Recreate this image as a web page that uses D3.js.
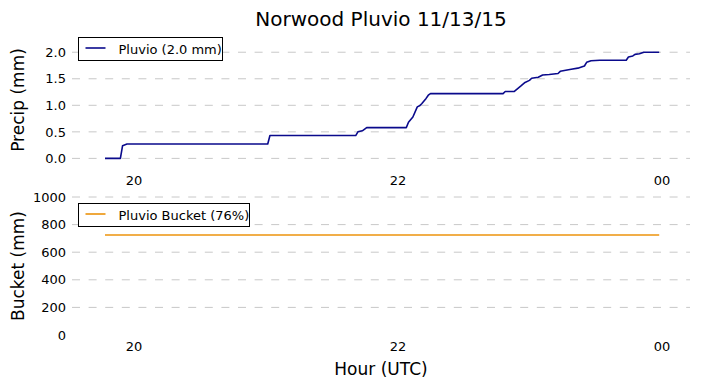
<!DOCTYPE html>
<html>
<head>
<meta charset="utf-8">
<script src="https://cdn.jsdelivr.net/npm/d3@7"></script>
<style>
  body { margin: 0; background: #fff; }
  text { font-family: "DejaVu Sans", sans-serif; fill: #000; }
</style>
</head>
<body>
<svg id="chart" width="701" height="388"></svg>
<script>
// cumulative pluvio precip, 11/13/15 (UTC)
var precipTimes = ['19:47', '19:54', '19:55', '19:57', '21:01', '21:02', '21:41', '21:42', '21:44', '21:46',
  '22:04', '22:05', '22:07', '22:09', '22:10', '22:11', '22:13', '22:14', '22:15', '22:48', '22:49',
  '22:53', '22:56', '22:58', '23:00', '23:01', '23:04', '23:06', '23:09', '23:13', '23:14', '23:19',
  '23:22', '23:25', '23:26', '23:28', '23:32', '23:44', '23:45', '23:47', '23:48', '23:50', '23:52', '23:59']
var precipValues = [0.0, 0.0, 0.24, 0.27, 0.27, 0.43, 0.43, 0.5, 0.52, 0.58,
  0.58, 0.68, 0.78, 0.97, 0.99, 1.03, 1.13, 1.19, 1.22, 1.22, 1.26,
  1.26, 1.36, 1.43, 1.47, 1.51, 1.53, 1.57, 1.58, 1.6, 1.64, 1.68,
  1.7, 1.74, 1.81, 1.84, 1.85, 1.85, 1.91, 1.93, 1.96, 1.97, 2.0, 2.0]

var bucketTimes = ['19:47', '21:00', '22:00', '23:00', '23:59']
var bucketValues = [725, 725, 725, 725, 725]

var precipTicks = [0, 0.5, 1.0, 1.5, 2.0]
var bucketTicks = [0, 200, 400, 600, 800, 1000]
var hourTicks = ['20:00', '22:00', '24:00']

var parseTime = function (s) {
  var p = s.split(':')
  return new Date(2015, 10, 13, +p[0], +p[1])
}

var svg = d3.select('#chart')
var margin = { left: 72, right: 11 }
var width = 701

var x = d3.scaleTime()
  .domain([new Date(2015, 10, 13, 19, 32), new Date(2015, 10, 14, 0, 13)])
  .range([margin.left, width - margin.right])

var gridColor = '#c8c8c8'

function drawPanel(cfg) {
  var y = d3.scaleLinear().domain(cfg.domain).range([cfg.bottom, cfg.top])
  var g = svg.append('g')

  // dashed grid
  g.selectAll('line.grid')
    .data(cfg.ticks.filter(function (t) { return cfg.gridAtZero || t !== 0 }))
    .enter()
    .append('line')
    .attr('x1', margin.left)
    .attr('x2', width - margin.right)
    .attr('y1', function (d) { return y(d) })
    .attr('y2', function (d) { return y(d) })
    .attr('stroke', gridColor)
    .attr('stroke-width', 1)
    .attr('stroke-dasharray', '8,8.6')

  // y axis labels (no spine, no ticks)
  var yAxis = d3.axisLeft(y).tickValues(cfg.ticks).tickFormat(cfg.fmt).tickSize(0).tickPadding(6)
  var ya = g.append('g').attr('transform', 'translate(' + margin.left + ',0)').call(yAxis)
  ya.select('.domain').remove()
  ya.selectAll('text').style('font-size', '13px').style('font-family', 'DejaVu Sans')

  // x axis labels
  var xAxis = d3.axisBottom(x)
    .tickValues(hourTicks.map(parseTime))
    .tickFormat(d3.timeFormat('%H'))
    .tickSize(0)
    .tickPadding(7)
  var xa = g.append('g').attr('transform', 'translate(0,' + cfg.bottom + ')').call(xAxis)
  xa.select('.domain').remove()
  xa.selectAll('text').style('font-size', '13px').style('font-family', 'DejaVu Sans')

  // data line
  var pts = cfg.times.map(function (t, i) { return [parseTime(t), cfg.values[i]] })
  g.append('path')
    .datum(pts)
    .attr('fill', 'none')
    .attr('stroke', cfg.color)
    .attr('stroke-width', 1.6)
    .attr('stroke-linejoin', 'round')
    .attr('d', d3.line().x(function (d) { return x(d[0]) }).y(function (d) { return y(d[1]) }))

  // legend
  var lg = g.append('g').attr('transform', 'translate(78.5,' + (cfg.top + 6.5) + ')')
  lg.append('rect')
    .attr('width', cfg.legendW)
    .attr('height', 23)
    .attr('fill', '#fff')
    .attr('stroke', '#000')
    .attr('stroke-width', 1)
  lg.append('line')
    .attr('x1', 7).attr('x2', 27).attr('y1', 10.5).attr('y2', 10.5)
    .attr('stroke', cfg.color).attr('stroke-width', 1.6)
  lg.append('text')
    .attr('x', 40).attr('y', 16)
    .style('font-size', '13px')
    .text(cfg.label)

  // y title
  svg.append('text')
    .attr('transform', 'translate(24,' + ((cfg.top + cfg.bottom) / 2) + ') rotate(-90)')
    .attr('text-anchor', 'middle')
    .style('font-size', '17px')
    .text(cfg.ylabel)
}

drawPanel({
  top: 31, bottom: 169, domain: [-0.2, 2.4],
  ticks: precipTicks, fmt: d3.format('.1f'), gridAtZero: true,
  times: precipTimes, values: precipValues, color: '#0a0a8c',
  label: 'Pluvio (2.0 mm)', legendW: 144, ylabel: 'Precip (mm)'
})

drawPanel({
  top: 197, bottom: 335, domain: [0, 1000],
  ticks: bucketTicks, fmt: d3.format('d'), gridAtZero: false,
  times: bucketTimes, values: bucketValues, color: '#ec930c',
  label: 'Pluvio Bucket (76%)', legendW: 171, ylabel: 'Bucket (mm)'
})

// title and x title
svg.append('text')
  .attr('x', 381).attr('y', 26)
  .attr('text-anchor', 'middle')
  .style('font-size', '20px')
  .text('Norwood Pluvio 11/13/15')

svg.append('text')
  .attr('x', 381).attr('y', 375)
  .attr('text-anchor', 'middle')
  .style('font-size', '17px')
  .text('Hour (UTC)')
</script>
</body>
</html>
